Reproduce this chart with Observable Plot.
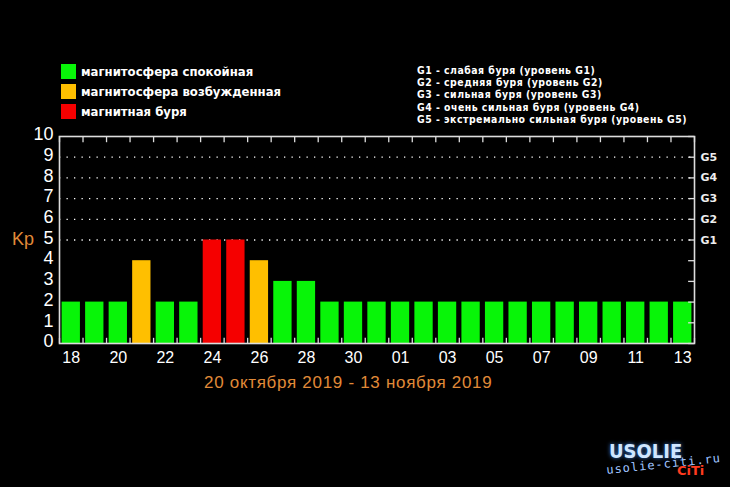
<!DOCTYPE html>
<html><head><meta charset="utf-8">
<script src="https://cdn.jsdelivr.net/npm/d3@7"></script>
<script src="https://cdn.jsdelivr.net/npm/@observablehq/plot@0.6"></script>
<style>
html,body{margin:0;padding:0;background:#000;}
#wrap{position:relative;width:730px;height:487px;background:#000;overflow:hidden;font-family:"Liberation Sans",Arial,sans-serif;}
.abs{position:absolute;white-space:nowrap;line-height:1;}
#chart{position:absolute;left:0;top:0;}
</style></head><body><div id="wrap"><div id="chart"></div></div>
<script>
// ---- data ----
const days = ["2019-10-18","2019-10-19","2019-10-20","2019-10-21","2019-10-22","2019-10-23","2019-10-24","2019-10-25","2019-10-26","2019-10-27","2019-10-28","2019-10-29","2019-10-30","2019-10-31","2019-11-01","2019-11-02","2019-11-03","2019-11-04","2019-11-05","2019-11-06","2019-11-07","2019-11-08","2019-11-09","2019-11-10","2019-11-11","2019-11-12","2019-11-13"];
const kp = [2,2,2,4,2,2,5,5,4,3,3,2,2,2,2,2,2,2,2,2,2,2,2,2,2,2,2];
const labelDays = ["2019-10-18","2019-10-20","2019-10-22","2019-10-24","2019-10-26","2019-10-28","2019-10-30","2019-11-01","2019-11-03","2019-11-05","2019-11-07","2019-11-09","2019-11-11","2019-11-13"];
const yTicks = [0,1,2,3,4,5,6,7,8,9,10];
const gTicks = [5,6,7,8,9];
const gLabels = ["G1","G2","G3","G4","G5"];
const legendNames = ["магнитосфера спокойная","магнитосфера возбужденная","магнитная буря"];
const legendColors = ["#08f508","#ffbf00","#f50000"];
const stormLevels = ["G1 - слабая буря (уровень G1)","G2 - средняя буря (уровень G2)","G3 - сильная буря (уровень G3)","G4 - очень сильная буря (уровень G4)","G5 - экстремально сильная буря (уровень G5)"];
const yLabel = "Kp";
const xTitle = "20 октября 2019 - 13 ноября 2019";

// ---- build ----
const data = days.map((d, i) => {
  const start = new Date(d + "T00:00:00Z");
  return {start, end: d3.utcDay.offset(start, 1), kp: kp[i],
    state: kp[i] >= 5 ? legendNames[2] : kp[i] >= 4 ? legendNames[1] : legendNames[0]};
});
const x0 = data[0].start, x1 = data[data.length - 1].end;
const bounds = data.map(d => d.start).concat([x1]);
const labelDates = labelDays.map(d => d3.utcHour.offset(new Date(d + "T00:00:00Z"), 12));
const rightTickStart = d3.utcHour.offset(x1, -6);

const chart = Plot.plot({
  width: 730, height: 487,
  marginLeft: 59, marginRight: 36, marginTop: 136, marginBottom: 144,
  style: {background: "#000", color: "#fff", fontFamily: "Liberation Sans, Arial, sans-serif"},
  x: {type: "utc", domain: [x0, x1]},
  y: {domain: [0, 10]},
  color: {domain: legendNames, range: legendColors},
  marks: [
    Plot.ruleY(gTicks, {stroke: "#fff", strokeWidth: 1.3, strokeDasharray: "1.3,6.2"}),
    Plot.rectY(data, {x1: "start", x2: "end", y: "kp", fill: "state", insetLeft: 2.6, insetRight: 2.6}),
    Plot.ruleX(bounds, {y1: 0, y2: 0.25, stroke: "#ddd", strokeWidth: 1.3}),
    Plot.ruleX(bounds, {y1: 9.7, y2: 10, stroke: "#ddd", strokeWidth: 1.3}),
    Plot.ruleY(yTicks, {x1: rightTickStart, x2: x1, stroke: "#ddd", strokeWidth: 1.3}),
    Plot.frame({stroke: "#ddd", strokeWidth: 1.6}),
    Plot.axisY(yTicks, {anchor: "left", tickSize: 0, tickPadding: 6, fontSize: 18, dy: -2, label: null, fill: "#fff"}),
    Plot.axisY(gTicks, {anchor: "right", tickSize: 0, tickPadding: 6, fontSize: 11, fontWeight: "bold", fontFamily: "DejaVu Sans", fill: "#eee",
      tickFormat: d => gLabels[gTicks.indexOf(d)], label: null}),
    Plot.axisX(labelDates, {anchor: "bottom", tickSize: 0, tickPadding: 8, fontSize: 16, fill: "#fff",
      tickFormat: d3.utcFormat("%d"), label: null})
  ]
});
document.getElementById("chart").appendChild(chart);

// ---- legends & titles (HTML) ----
const wrap = document.getElementById("wrap");
function addDiv(text, css) {
  const el = document.createElement("div");
  el.className = "abs"; el.textContent = text; el.style.cssText += css;
  wrap.appendChild(el); return el;
}
legendNames.forEach((n, i) => {
  const top = 64 + i * 20;
  addDiv("", `left:61px;top:${top}px;width:15px;height:15px;background:${legendColors[i]};`);
  addDiv(n, `left:81px;top:${top}px;font:bold 13px "DejaVu Sans Condensed","DejaVu Sans";color:#fff;line-height:15px;`);
});
stormLevels.forEach((s, i) => {
  addDiv(s, `left:417px;top:${63.5 + i * 12.4}px;font:bold 10.4px "DejaVu Sans Condensed","DejaVu Sans";color:#fff;line-height:12px;letter-spacing:0.5px;`);
});
addDiv(yLabel, `left:12px;top:229px;font:18px "Liberation Sans",Arial;color:#e08a38;`);
addDiv(xTitle, `left:204px;top:373px;font:17px "Liberation Sans",Arial;color:#e08a38;letter-spacing:0.7px;`);
// watermark
addDiv("USOLIE", `left:609px;top:439px;font:bold 20px "DejaVu Sans Condensed";color:#cfe6ff;text-shadow:0 0 4px #3a7bd5;`);
addDiv("usolie-citi.ru", `left:606px;top:457px;font:12px "DejaVu Sans Mono";color:#9fc4ff;letter-spacing:1px;transform:rotate(-6deg);`);
addDiv("CiTi", `left:677px;top:463px;font:bold 13px "DejaVu Sans";color:#ff3b1f;`);
</script></body></html>
